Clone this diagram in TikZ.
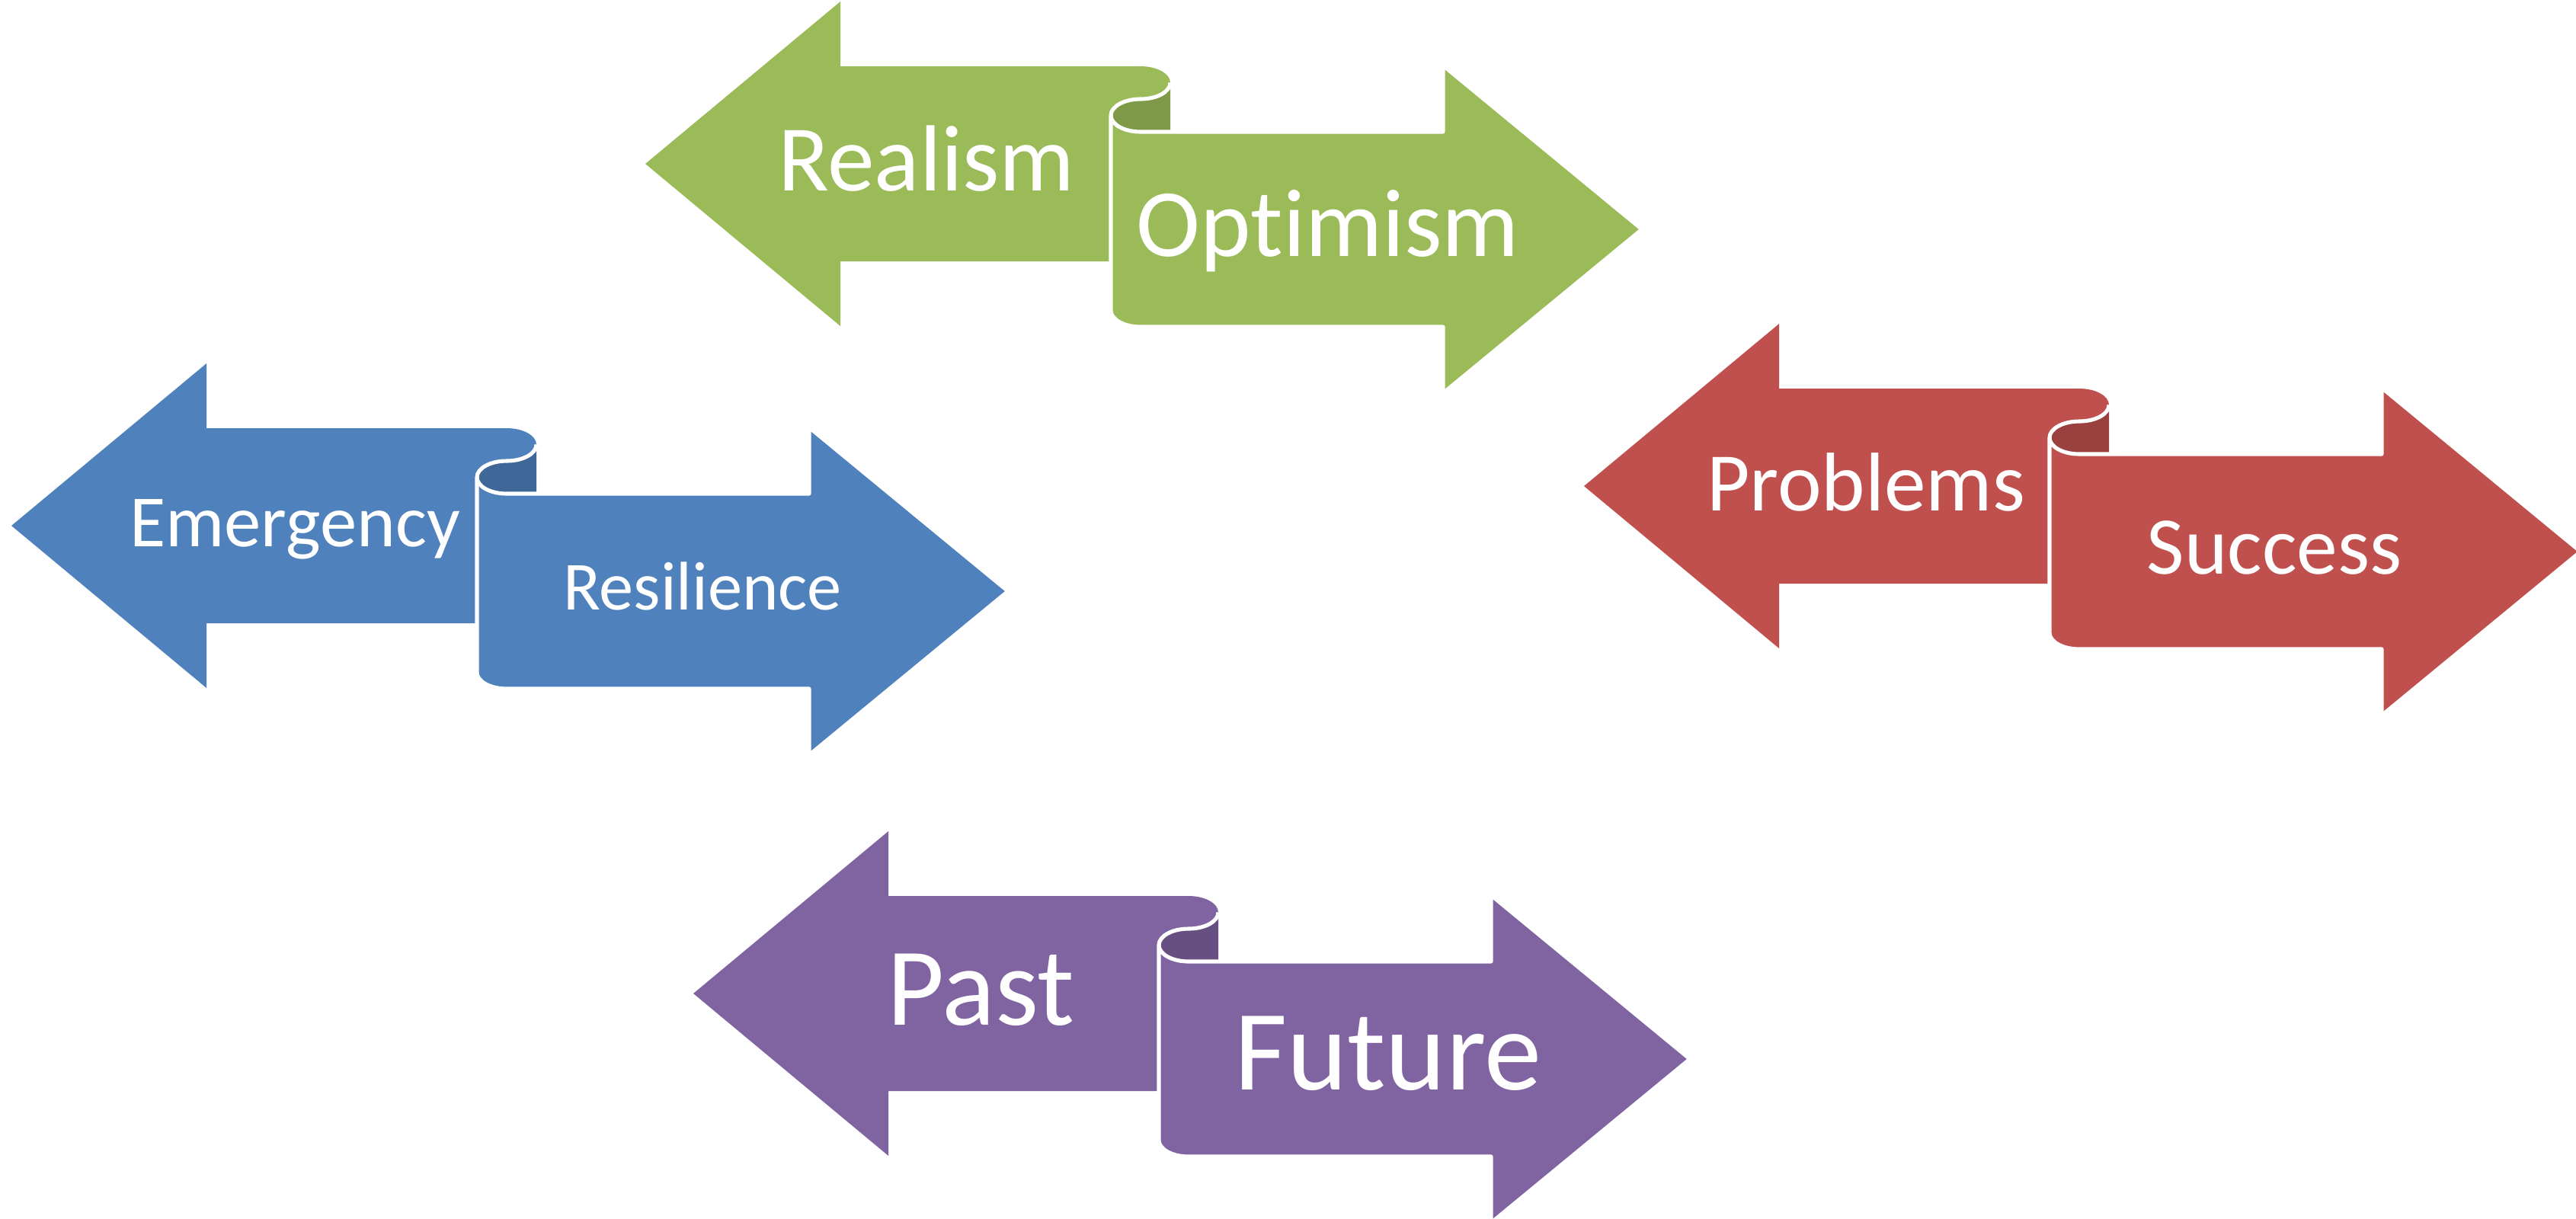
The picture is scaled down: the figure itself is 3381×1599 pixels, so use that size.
\documentclass[tikz,border=0pt]{standalone}
\usepackage{fontspec}
\setmainfont[Ligatures={NoCommon}]{Carlito}
\definecolor{cgreen}{HTML}{9BBB59}
\definecolor{cgreend}{HTML}{7E9A48}
\definecolor{cblue}{HTML}{4F81BD}
\definecolor{cblued}{HTML}{3F6797}
\definecolor{cred}{HTML}{C0504D}
\definecolor{credd}{HTML}{9A403E}
\definecolor{cpurple}{HTML}{8064A2}
\definecolor{cpurpled}{HTML}{665082}
\tikzset{
  lbl/.style={text=white, anchor=base, inner sep=0pt},
  curl/.style={draw=white, line width=1.45pt, line join=round},
  rad/.style={x radius=39, y radius=21.5},
}
\newcommand\ScrollPair[4]{%
  \begin{scope}[shift={(#1,-#2)}]
    % left arrow
    \fill[#3] (0,0) -- (256,213) -- (256,128) -- (650,128)
      arc[start angle=90,end angle=-90,rad]
      -- (650,63.5) -- (611,63.5) -- (611,-128) -- (256,-128) -- (256,-213) -- cycle;
    % dark inner part of the roll
    \fill[#4] (689,106.5) -- (689,42) -- (650,42)
      arc[start angle=270,end angle=90,rad]
      arc[start angle=270,end angle=360,rad] -- cycle;
    % right arrow
    \filldraw[fill=#3, curl] (611,63.5) -- (611,-192.5)
      arc[start angle=180,end angle=270,rad]
      -- (1047,-214) -- (1047,-301) -- (1308,-86) -- (1047,129) -- (1047,42) -- (650,42)
      arc[start angle=270,end angle=180,rad] -- cycle;
    % curl line
    \draw[curl] (689,106.5) arc[start angle=0,end angle=-90,rad]
      arc[start angle=90,end angle=180,rad];
  \end{scope}}
\begin{document}
\begin{tikzpicture}[x=0.01cm,y=0.01cm]
  \useasboundingbox (0,0) rectangle (3381,-1599);
  \ScrollPair{847}{215}{cgreen}{cgreend}
  \ScrollPair{15}{690}{cblue}{cblued}
  \ScrollPair{2079}{638}{cred}{credd}
  \ScrollPair{910}{1304}{cpurple}{cpurpled}

  \node[lbl, font=\fontsize{35.1pt}{40pt}\selectfont] (realism) at (1216,-250) {Realism};
  \node[lbl, font=\fontsize{36pt}{40pt}\selectfont] (optimism) at (1743,-336) {Optimism};
  \node[lbl, font=\fontsize{27.5pt}{32pt}\selectfont] (emergency) at (387,-717) {Emergency};
  \node[lbl, font=\fontsize{25.7pt}{30pt}\selectfont] (resilience) at (922,-800) {Resilience};
  \node[lbl, font=\fontsize{31.1pt}{36pt}\selectfont] (problems) at (2449,-670) {Problems};
  \node[lbl, font=\fontsize{30.6pt}{36pt}\selectfont] (success) at (2985,-753) {Success};
  \node[lbl, font=\fontsize{41.4pt}{46pt}\selectfont] (past) at (1287,-1345) {Past};
  \node[lbl, font=\fontsize{42.8pt}{48pt}\selectfont] (future) at (1822,-1430) {Future};
\end{tikzpicture}
\end{document}
